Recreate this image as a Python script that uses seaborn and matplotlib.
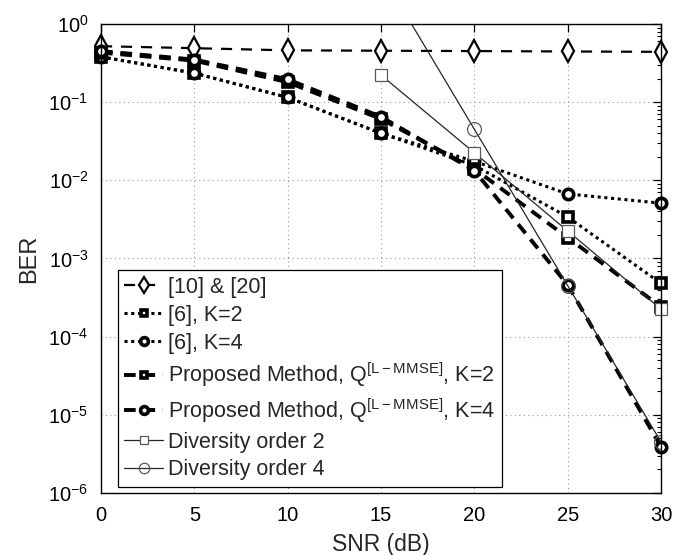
import numpy as np
import pandas as pd
import matplotlib
matplotlib.use("Agg")
import matplotlib.pyplot as plt
import matplotlib.ticker as mticker
import seaborn as sns

# SNR grid (dB)
snr = [0, 5, 10, 15, 20, 25, 30]
snr_div = [15, 20, 25, 30]

# BER curves
ber_ref10_20 = [0.52, 0.49, 0.46, 0.455, 0.45, 0.445, 0.44]
ber_ref6_k2 = [0.38, 0.235, 0.115, 0.040, 0.0155, 0.0034, 0.00048]
ber_ref6_k4 = [0.38, 0.235, 0.115, 0.040, 0.0175, 0.0067, 0.0051]
ber_prop_k2 = [0.43, 0.34, 0.18, 0.061, 0.014, 0.00185, 0.00024]
ber_prop_k4 = [0.45, 0.35, 0.196, 0.065, 0.0133, 0.00046, 0.0000039]
ber_div2 = [0.222, 0.0225, 0.00225, 0.000225]
ber_div4 = [4.5, 0.045, 0.00045, 0.0000045]

# decade ticks of the BER axis
ber_ticks = [1e-6, 1e-5, 1e-4, 1e-3, 1e-2, 1e-1, 1e0]

labels = [
    "[10] & [20]",
    "[6], K=2",
    "[6], K=4",
    r"Proposed Method, Q$^{\mathrm{[L-MMSE]}}$, K=2",
    r"Proposed Method, Q$^{\mathrm{[L-MMSE]}}$, K=4",
    "Diversity order 2",
    "Diversity order 4",
]

sns.set_style("white")
plt.rcParams["font.family"] = ["Liberation Sans", "DejaVu Sans"]
plt.rcParams["mathtext.fontset"] = "custom"
plt.rcParams["mathtext.rm"] = "Liberation Sans"
plt.rcParams["mathtext.it"] = "Liberation Sans:italic"
plt.rcParams["mathtext.bf"] = "Liberation Sans:bold"
plt.rcParams["font.size"] = 15

fig = plt.figure(figsize=(6.9, 5.55), dpi=100)
ax = fig.add_axes([0.1464, 0.1117, 0.8116, 0.8451])

styles = [
    (snr, ber_ref10_20, dict(linestyle=(0, (5, 4)), lw=1.6, marker="d", ms=11,
                             mfc="white", mec="black", mew=1.6, color="black",
                             clip_on=False)),
    (snr, ber_ref6_k2, dict(linestyle=(0, (1, 1.2)), lw=2.2, marker="s", ms=6.5,
                            mfc="white", mec="black", mew=2.6, color="black",
                            clip_on=False)),
    (snr, ber_ref6_k4, dict(linestyle=(0, (1, 1.2)), lw=2.2, marker="o", ms=7.5,
                            mfc="white", mec="black", mew=2.6, color="black",
                            clip_on=False)),
    (snr, ber_prop_k2, dict(linestyle=(0, (3, 2)), lw=2.8, marker="s", ms=6.5,
                            mfc="white", mec="black", mew=2.6, color="black",
                            clip_on=False)),
    (snr, ber_prop_k4, dict(linestyle=(0, (3, 2)), lw=2.8, marker="o", ms=7.5,
                            mfc="white", mec="black", mew=2.6, color="black",
                            clip_on=False)),
    (snr_div, ber_div2, dict(linestyle="-", lw=0.9, marker="s", ms=8,
                             mfc="white", mec="0.35", mew=0.9, color="0.15",
                             clip_on=False)),
    (snr_div, ber_div4, dict(linestyle="-", lw=0.9, marker="o", ms=10,
                             mfc="none", mec="0.35", mew=0.9, color="0.15")),
]

for (xs, ys, kw), lab in zip(styles, labels):
    df = pd.DataFrame({"SNR": xs, "BER": ys})
    sns.lineplot(data=df, x="SNR", y="BER", ax=ax, label=lab, **kw)

ax.set_yscale("log")
ax.set_xlim(0, 30)
ax.set_ylim(1e-6, 1)
ax.set_xticks(snr)
ax.set_yticks(ber_ticks)
ax.yaxis.set_minor_locator(mticker.LogLocator(base=10, subs=np.arange(2, 10)))
ax.yaxis.set_minor_formatter(mticker.NullFormatter())
ax.set_ylim(1e-6, 1)
ax.set_xlabel("SNR (dB)", fontsize=16.5, labelpad=6)
ax.set_ylabel("BER", fontsize=17, labelpad=6)

ax.grid(True, which="major", linestyle=(0, (1, 3)), color="0.6", lw=0.8)
ax.tick_params(which="both", direction="in", top=True, right=True,
               labelsize=14.5, colors="black")
ax.tick_params(axis="x", which="major", pad=9)
ax.tick_params(axis="y", which="major", pad=9)
ax.tick_params(which="major", length=6, width=0.9)
ax.tick_params(which="minor", length=3, width=0.8)
for sp in ax.spines.values():
    sp.set_color("black")
    sp.set_linewidth(1.0)

leg = ax.legend(loc="lower left", bbox_to_anchor=(0.03, 0.013), borderaxespad=0,
                fontsize=15.5, frameon=True, fancybox=False, framealpha=1,
                edgecolor="black", handlelength=1.8, handletextpad=0.25,
                borderpad=0.3, labelspacing=0.32, markerscale=0.75)
leg.get_frame().set_linewidth(0.9)

fig.savefig("out.png", dpi=100)
